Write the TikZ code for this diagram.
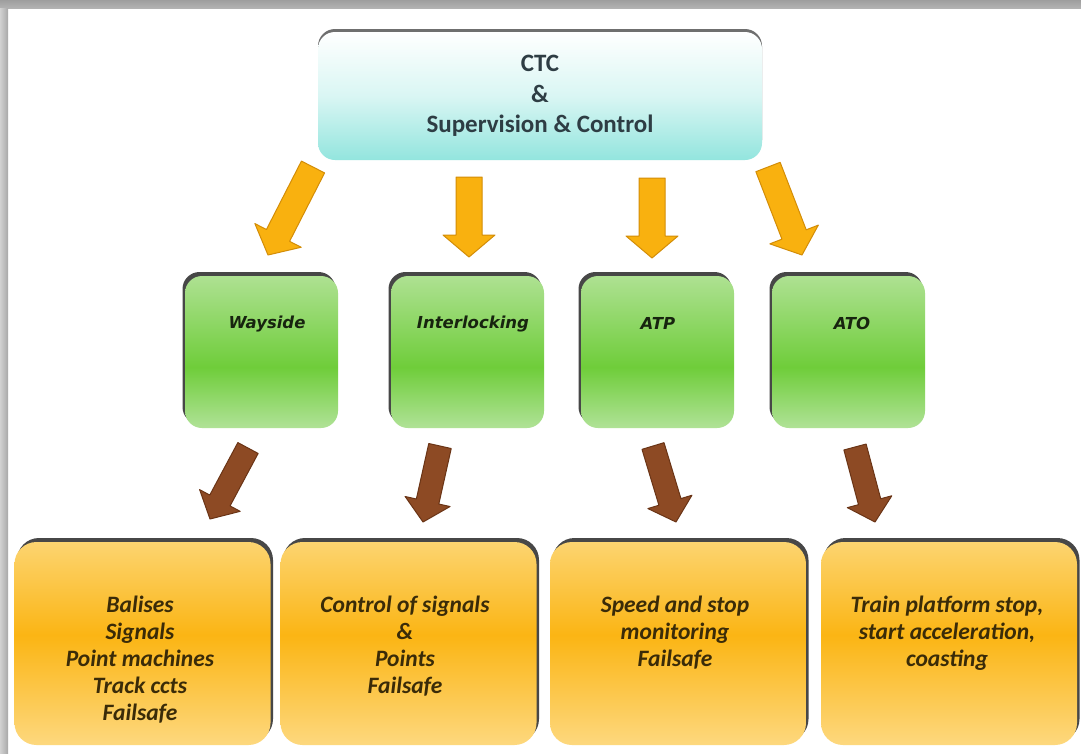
\documentclass[tikz,border=0pt]{standalone}
\usepackage{fontspec}
\setmainfont{Carlito}
\newfontfamily\labelfont{DejaVu Sans}
\usetikzlibrary{calc,shadows}

\definecolor{ctccyan}{HTML}{93E5DE}
\definecolor{ctctext}{HTML}{2E3D44}
\definecolor{greentop}{HTML}{AEE192}
\definecolor{greenmid}{HTML}{6FCD3A}
\definecolor{greenbot}{HTML}{B0E297}
\definecolor{greentext}{HTML}{17240F}
\definecolor{orangetop}{HTML}{FCD470}
\definecolor{orangemid}{HTML}{FBB514}
\definecolor{orangebot}{HTML}{FDD87E}
\definecolor{orangetext}{HTML}{3A2B08}
\definecolor{yellowfill}{HTML}{F9B10F}
\definecolor{yellowline}{HTML}{D38D07}
\definecolor{brownfill}{HTML}{8D4A24}
\definecolor{brownline}{HTML}{6A3416}

% box gradients (the box spans 25bp..75bp of the shading)
\pgfdeclareverticalshading{greenshade}{100bp}{color(0bp)=(greenbot);
  color(25bp)=(greenbot); color(45bp)=(greenmid); color(75bp)=(greentop);
  color(100bp)=(greentop)}
\pgfdeclareverticalshading{orangeshade}{100bp}{color(0bp)=(orangebot);
  color(25bp)=(orangebot); color(52bp)=(orangemid); color(75bp)=(orangetop);
  color(100bp)=(orangetop)}

% block arrow: style, start, tip, half shaft width, half head width, head length
\newcommand\blockarrow[6]{%
  \coordinate (ba-base) at ($(#3)!#6!(#2)$);
  \filldraw[#1] ($(#2)!#4!90:(#3)$) -- ($(ba-base)!#4!90:(#3)$)
    -- ($(ba-base)!#5!90:(#3)$) -- (#3) -- ($(ba-base)!#5!-90:(#3)$)
    -- ($(ba-base)!#4!-90:(#3)$) -- ($(#2)!#4!-90:(#3)$) -- cycle;}

\begin{document}
\begin{tikzpicture}[x=1pt,y=-1pt,
  ctcbox/.style={rectangle, rounded corners=17pt, minimum width=444pt,
    minimum height=128pt, top color=white, bottom color=ctccyan,
    middle color=ctccyan!35, text=ctctext, align=center,
    font=\fontsize{25}{30.5}\selectfont\bfseries,
    drop shadow={shadow xshift=0pt, shadow yshift=3pt, fill=black!70, opacity=0.8}},
  greenbox/.style={rectangle, rounded corners=17pt, minimum width=153pt,
    minimum height=152pt, shade, shading=greenshade,
    drop shadow={shadow xshift=-2.5pt, shadow yshift=4pt, fill=black!90, opacity=0.8}},
  greenlabel/.style={text=greentext, inner sep=0pt,
    font=\labelfont\fontsize{16.5}{20}\selectfont\bfseries\itshape},
  orangebox/.style={rectangle, rounded corners=22pt, minimum width=256pt,
    minimum height=203pt, shade, shading=orangeshade,
    drop shadow={shadow xshift=2.5pt, shadow yshift=4pt, fill=black!90, opacity=0.8}},
  orangelabel/.style={text=orangetext, inner sep=0pt, align=center, anchor=north,
    font=\fontsize{23.5}{27}\selectfont\bfseries\itshape},
  yellowarrow/.style={fill=yellowfill, draw=yellowline, line width=1pt, line join=round},
  brownarrow/.style={fill=brownfill, draw=brownline, line width=1pt, line join=round}]

\useasboundingbox (0,0) rectangle (1081,753);
\fill[white] (0,0) rectangle (1081,753);
% frame shadow along the top and left edges
\shade[top color=black!38, bottom color=black!30] (0,0) rectangle (1081,8);
\shade[left color=black!18, right color=black!34] (0,8) rectangle (8,753);

% top level
\node[ctcbox] (ctc) at (540,96) {CTC\\\&\\Supervision \& Control};

% subsystems
\node[greenbox] (wayside) at (261.5,352) {};
\node[greenbox] (interlocking) at (467.5,352) {};
\node[greenbox] (atp) at (657.5,352) {};
\node[greenbox] (ato) at (848.5,352) {};
\node[greenlabel] (waysidet) at (267,324) {Wayside};
\node[greenlabel] (interlockingt) at (473,324) {Interlocking};
\node[greenlabel] (atpt) at (658,323) {ATP};
\node[greenlabel] (atot) at (852,323) {ATO};

% functions
\node[orangebox] (balises) at (142.5,643.5) {};
\node[orangebox] (signals) at (408.5,643.5) {};
\node[orangebox] (speed) at (678,643.5) {};
\node[orangebox] (platform) at (949,643.5) {};
\node[orangelabel] (balisest) at (140,596)
  {Balises\\Signals\\Point machines\\Track ccts\\Failsafe};
\node[orangelabel] (signalst) at (405,596)
  {Control of signals\\\&\\Points\\Failsafe};
\node[orangelabel] (speedt) at (675,596)
  {Speed and stop\\monitoring\\Failsafe};
\node[orangelabel] (platformt) at (947,596)
  {Train platform stop,\\start acceleration,\\coasting};

% arrows from CTC to the subsystems
\coordinate (y1s) at (313,167);
\coordinate (y1e) at (268,255);
\coordinate (y2s) at (469,177);
\coordinate (y2e) at (469,257);
\coordinate (y3s) at (652,178);
\coordinate (y3e) at (652,258);
\coordinate (y4s) at (768,167);
\coordinate (y4e) at (802,255);
\blockarrow{yellowarrow}{y1s}{y1e}{13pt}{26pt}{22pt}
\blockarrow{yellowarrow}{y2s}{y2e}{13pt}{26pt}{22pt}
\blockarrow{yellowarrow}{y3s}{y3e}{13pt}{26pt}{22pt}
\blockarrow{yellowarrow}{y4s}{y4e}{13pt}{26pt}{22pt}

% arrows from the subsystems to their functions
\coordinate (b1s) at (248,448);
\coordinate (b1e) at (210,519);
\coordinate (b2s) at (440,446);
\coordinate (b2e) at (423,522);
\coordinate (b3s) at (653,446);
\coordinate (b3e) at (676,522);
\coordinate (b4s) at (855,447);
\coordinate (b4e) at (875,522);
\blockarrow{brownarrow}{b1s}{b1e}{11.5pt}{23pt}{21pt}
\blockarrow{brownarrow}{b2s}{b2e}{11.5pt}{23pt}{21pt}
\blockarrow{brownarrow}{b3s}{b3e}{11.5pt}{23pt}{21pt}
\blockarrow{brownarrow}{b4s}{b4e}{11.5pt}{23pt}{21pt}
\end{tikzpicture}
\end{document}
